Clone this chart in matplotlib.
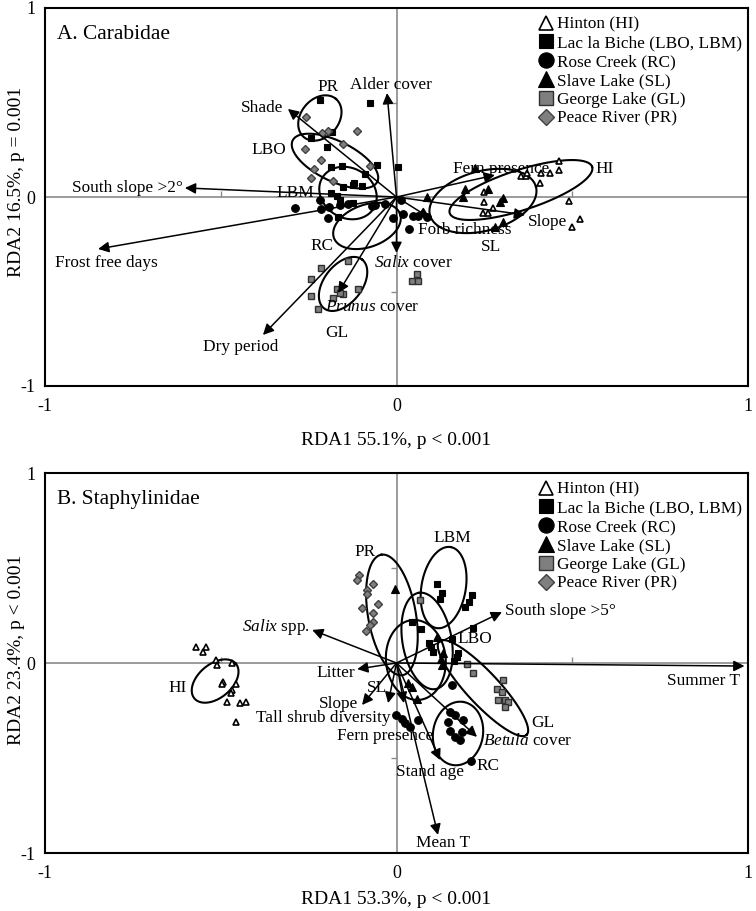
import numpy as np
import matplotlib
matplotlib.use("Agg")
import matplotlib.pyplot as plt
from matplotlib.lines import Line2D

plt.rcParams['font.family'] = ['Liberation Serif', 'DejaVu Serif']
plt.rcParams['mathtext.fontset'] = 'custom'
plt.rcParams['mathtext.rm'] = 'Liberation Serif'
plt.rcParams['mathtext.it'] = 'Liberation Serif:italic'

# ---------------- Panel A: Carabidae ----------------
hi_a_x = [0.462, 0.462, 0.437, 0.411, 0.408, 0.354, 0.368, 0.371, 0.249, 0.249, 0.275, 0.246, 0.260, 0.491, 0.522, 0.499]
hi_a_y = [0.190, 0.143, 0.127, 0.127, 0.074, 0.111, 0.111, 0.127, 0.026, -0.026, -0.058, -0.085, -0.085, -0.021, -0.116, -0.159]
lb_a_x = [-0.218, -0.184, -0.243, -0.198, -0.186, -0.155, -0.121, -0.098, -0.186, -0.161, -0.075, -0.055, 0.004, -0.152, -0.124, -0.090, -0.169, -0.124, -0.166]
lb_a_y = [0.513, 0.344, 0.312, 0.265, 0.159, 0.164, 0.074, 0.058, 0.021, -0.016, 0.497, 0.169, 0.159, 0.053, 0.063, 0.122, 0.005, -0.032, -0.106]
rc_a_x = [-0.289, -0.218, -0.215, -0.192, -0.195, -0.161, -0.138, -0.070, -0.061, -0.033, -0.010, 0.013, 0.018, 0.047, 0.061, 0.087, 0.036]
rc_a_y = [-0.058, -0.016, -0.063, -0.053, -0.111, -0.042, -0.037, -0.048, -0.042, -0.037, -0.111, -0.016, -0.090, -0.101, -0.101, -0.106, -0.169]
sl_a_x = [0.087, 0.195, 0.189, 0.260, 0.294, 0.303, 0.303, 0.280, 0.223]
sl_a_y = [0.000, 0.042, 0.000, 0.042, -0.026, -0.005, -0.132, -0.159, 0.153]
gl_a_x = [-0.138, -0.215, -0.243, -0.243, -0.223, -0.169, -0.181, -0.152, -0.110, 0.044, 0.058, 0.061, -0.161]
gl_a_y = [-0.339, -0.376, -0.434, -0.524, -0.593, -0.487, -0.534, -0.513, -0.487, -0.444, -0.407, -0.444, -0.508]
pr_a_x = [-0.257, -0.112, -0.260, -0.215, -0.235, -0.243, -0.181, -0.152, -0.195, -0.212, -0.075]
pr_a_y = [0.423, 0.349, 0.254, 0.196, 0.148, 0.101, 0.085, 0.280, 0.349, 0.339, 0.164]

env_a_names = ['South slope >2°', 'Frost free days', 'Dry period', r'$\mathit{Prunus}$ cover',
               r'$\mathit{Salix}$ cover', 'Alder cover', 'Shade', 'Fern presence', 'Slope', 'Forb richness']
env_a_x = [-0.602, -0.849, -0.380, -0.166, 0.000, -0.027, -0.309, 0.280, 0.366, 0.095]
env_a_y = [0.048, -0.275, -0.730, -0.508, -0.296, 0.550, 0.466, 0.116, -0.095, -0.111]
env_a_lx = [-0.607, -0.971, -0.442, -0.204, -0.064, -0.132, -0.323, 0.161, 0.374, 0.061]
env_a_ly = [0.048, -0.349, -0.794, -0.582, -0.349, 0.593, 0.471, 0.148, -0.132, -0.175]
env_a_ha = ['right', 'left', 'center', 'left', 'left', 'left', 'right', 'left', 'left', 'left']

grp_a_names = ['PR', 'LBO', 'LBM', 'RC', 'GL', 'SL', 'HI']
grp_a_x = [-0.195, -0.363, -0.289, -0.212, -0.169, 0.269, 0.593]
grp_a_y = [0.582, 0.249, 0.021, -0.259, -0.720, -0.265, 0.148]
# ellipses: centre x, centre y, semi-axes (x units), angle on screen
ell_a_cx = [-0.218, -0.175, -0.138, -0.084, -0.152, 0.246, 0.354]
ell_a_cy = [0.418, 0.190, 0.021, -0.153, -0.460, -0.021, 0.037]
ell_a_a = [0.071, 0.134, 0.085, 0.100, 0.088, 0.156, 0.213]
ell_a_b = [0.054, 0.057, 0.071, 0.060, 0.054, 0.085, 0.057]
ell_a_ang = [50, -26, -30, 20, 52, 15, 18]

# ---------------- Panel B: Staphylinidae ----------------
hi_b_x = [-0.570, -0.542, -0.550, -0.514, -0.511, -0.468, -0.494, -0.496, -0.457, -0.468, -0.471, -0.482, -0.445, -0.428, -0.457]
hi_b_y = [0.084, 0.084, 0.058, 0.016, -0.011, 0.000, -0.100, -0.111, -0.111, -0.142, -0.158, -0.205, -0.211, -0.205, -0.311]
lb_b_x = [0.115, 0.129, 0.124, 0.215, 0.206, 0.195, 0.218, 0.044, 0.070, 0.092, 0.104, 0.158, 0.175, 0.172, 0.164, 0.098]
lb_b_y = [0.416, 0.368, 0.337, 0.358, 0.321, 0.295, 0.184, 0.216, 0.179, 0.105, 0.058, 0.126, 0.053, 0.032, 0.011, 0.084]
rc_b_x = [0.158, -0.001, 0.016, 0.024, 0.061, 0.152, 0.166, 0.189, 0.147, 0.186, 0.152, 0.166, 0.181, 0.212, 0.038]
rc_b_y = [-0.116, -0.274, -0.295, -0.316, -0.300, -0.258, -0.274, -0.300, -0.311, -0.363, -0.358, -0.389, -0.405, -0.516, -0.337]
sl_b_x = [-0.004, 0.115, 0.132, 0.127, 0.129, 0.033, 0.044, 0.058]
sl_b_y = [0.389, 0.137, 0.053, 0.021, -0.011, -0.105, -0.126, -0.189]
gl_b_x = [0.067, 0.201, 0.218, 0.303, 0.286, 0.300, 0.289, 0.309, 0.317, 0.309]
gl_b_y = [0.332, -0.005, -0.053, -0.089, -0.137, -0.153, -0.195, -0.195, -0.205, -0.232]
pr_b_x = [-0.107, -0.112, -0.067, -0.084, -0.084, -0.053, -0.098, -0.067, -0.067, -0.075, -0.087]
pr_b_y = [0.463, 0.437, 0.416, 0.384, 0.363, 0.311, 0.289, 0.263, 0.216, 0.200, 0.168]

env_b_names = ['Summer T', 'Mean T', 'Stand age', r'$\mathit{Betula}$ cover', 'Fern presence',
               'Tall shrub diversity', 'Slope', 'Litter', r'$\mathit{Salix}$ spp.', 'South slope >5°']
env_b_x = [0.990, 0.118, 0.124, 0.229, 0.021, -0.024, -0.098, -0.112, -0.240, 0.300]
env_b_y = [-0.016, -0.905, -0.511, -0.389, -0.211, -0.211, -0.221, -0.032, 0.174, 0.268]
env_b_lx = [0.977, 0.132, 0.095, 0.246, -0.033, -0.018, -0.110, -0.118, -0.246, 0.309]
env_b_ly = [-0.095, -0.947, -0.574, -0.411, -0.384, -0.289, -0.214, -0.053, 0.189, 0.274]
env_b_ha = ['right', 'center', 'center', 'left', 'center', 'right', 'right', 'right', 'right', 'left']

grp_b_names = ['PR', 'LBM', 'LBO', 'SL', 'HI', 'GL', 'RC']
grp_b_x = [-0.090, 0.158, 0.223, -0.055, -0.622, 0.417, 0.260]
grp_b_y = [0.584, 0.658, 0.126, -0.132, -0.132, -0.316, -0.542]
ell_b_cx = [-0.013, 0.134, 0.087, 0.055, -0.516, 0.246, 0.175]
ell_b_cy = [0.253, 0.397, 0.116, 0.016, -0.095, -0.132, -0.371]
ell_b_a = [0.174, 0.117, 0.139, 0.114, 0.077, 0.182, 0.091]
ell_b_b = [0.068, 0.063, 0.070, 0.085, 0.048, 0.046, 0.071]
ell_b_ang = [100, 80, 100, 95, 40, -47, 80]

legend_labels = ['Hinton (HI)', 'Lac la Biche (LBO, LBM)', 'Rose Creek (RC)',
                 'Slave Lake (SL)', 'George Lake (GL)', 'Peace River (PR)']

GREY = '#7f7f7f'
styles = [dict(marker='^', mfc='white', mec='black', ms=5, mew=1.2),
          dict(marker='s', mfc='black', mec='black', ms=5, mew=0.8),
          dict(marker='o', mfc='black', mec='black', ms=5.5, mew=0.8),
          dict(marker='^', mfc='black', mec='black', ms=6, mew=0.8),
          dict(marker='s', mfc=GREY, mec='#303030', ms=5, mew=1.0),
          dict(marker='D', mfc=GREY, mec='#404040', ms=4, mew=1.0)]

FS = 12.4

fig = plt.figure(figsize=(7.56, 9.11), dpi=100)
axA = fig.add_axes([45 / 756, 1 - 386 / 911, 703 / 756, 378 / 911])
axB = fig.add_axes([45 / 756, 1 - 853 / 911, 703 / 756, 380 / 911])


def draw_ellipse(ax, cx, cy, a, b, ang, k):
    t = np.linspace(0, 2 * np.pi, 240)
    th = np.radians(ang)
    X = a * np.cos(t) * np.cos(th) - b * np.sin(t) * np.sin(th)
    Y = a * np.cos(t) * np.sin(th) + b * np.sin(t) * np.cos(th)
    ax.plot(cx + X, cy + Y / k, color='black', lw=1.5, zorder=3)


def panel(ax, title, xlabel, ylabel, sites, envs, groups, ells, ylab_pos, xlab_y):
    ax.set_xlim(-1, 1)
    ax.set_ylim(-1, 1)
    ax.axhline(0, color='#8a8a8a', lw=1.2, zorder=1)
    ax.axvline(0, color='#8a8a8a', lw=1.2, zorder=1)
    # small ticks on the zero lines
    ax.plot([-0.5, 0.5], [0, 0], ls='none', marker=2, ms=4, color='#8a8a8a', zorder=1)
    ax.plot([0, 0], [-0.5, 0.5], ls='none', marker=0, ms=4, color='#8a8a8a', zorder=1)
    ax.set_xticks([-1, 0, 1])
    ax.set_yticks([-1, 0, 1])
    ax.set_xticklabels(['-1', '0', '1'])
    ax.set_yticklabels(['-1', '0', '1'])
    ax.tick_params(length=0, labelsize=13)
    ax.tick_params(axis='x', pad=9)
    ax.tick_params(axis='y', pad=7)
    for s in ax.spines.values():
        s.set_linewidth(1.5)
    ax.set_xlabel(xlabel, fontsize=14)
    ax.set_ylabel(ylabel, fontsize=14)
    ax.xaxis.set_label_coords(0.5, xlab_y)
    ax.yaxis.set_label_coords(-0.029, ylab_pos)
    ax.text(0.017, 0.955, title, transform=ax.transAxes, fontsize=15.4, va='top', ha='left')

    pos = ax.get_position()
    k = (pos.height * fig.get_figheight()) / (pos.width * fig.get_figwidth())
    for cx, cy, a, b, ang in zip(*ells):
        draw_ellipse(ax, cx, cy, a, b, ang, k)

    for (xs, ys), st in zip(sites, styles):
        ax.plot(xs, ys, ls='none', zorder=4, **st)

    names, ex, ey, lx, ly, ha = envs
    for n, x, y, tx, ty, h in zip(names, ex, ey, lx, ly, ha):
        ax.annotate('', xy=(x, y), xytext=(0, 0),
                    arrowprops=dict(arrowstyle='-|>', mutation_scale=16, lw=1.1,
                                    color='black', shrinkA=0, shrinkB=0), zorder=5)
        ax.text(tx, ty, n, fontsize=FS, ha=h, va='center', zorder=6)

    for n, x, y in zip(*groups):
        ax.text(x, y, n, fontsize=FS, ha='center', va='center', zorder=6)

    handles = [Line2D([], [], ls='none', **dict(st, ms=st['ms'] * 2.0)) for st in styles]
    handles[0] = Line2D([], [], ls='none', marker='^', mfc='white', mec='black', ms=10, mew=1.2)
    ax.legend(handles, legend_labels, loc='upper left', bbox_to_anchor=(0.690, 1.0),
              frameon=False, fontsize=FS, handlelength=0.8, handletextpad=0.25,
              labelspacing=0.16, borderaxespad=0.1)


panel(axA, 'A. Carabidae', 'RDA1 55.1%, p < 0.001', 'RDA2 16.5%, p = 0.001',
      [(hi_a_x, hi_a_y), (lb_a_x, lb_a_y), (rc_a_x, rc_a_y),
       (sl_a_x, sl_a_y), (gl_a_x, gl_a_y), (pr_a_x, pr_a_y)],
      (env_a_names, env_a_x, env_a_y, env_a_lx, env_a_ly, env_a_ha),
      (grp_a_names, grp_a_x, grp_a_y),
      (ell_a_cx, ell_a_cy, ell_a_a, ell_a_b, ell_a_ang), 0.54, -0.122)

panel(axB, 'B. Staphylinidae', 'RDA1 53.3%, p < 0.001', 'RDA2 23.4%, p < 0.001',
      [(hi_b_x, hi_b_y), (lb_b_x, lb_b_y), (rc_b_x, rc_b_y),
       (sl_b_x, sl_b_y), (gl_b_x, gl_b_y), (pr_b_x, pr_b_y)],
      (env_b_names, env_b_x, env_b_y, env_b_lx, env_b_ly, env_b_ha),
      (grp_b_names, grp_b_x, grp_b_y),
      (ell_b_cx, ell_b_cy, ell_b_a, ell_b_b, ell_b_ang), 0.534, -0.100)

fig.savefig('out.png', dpi=100)
